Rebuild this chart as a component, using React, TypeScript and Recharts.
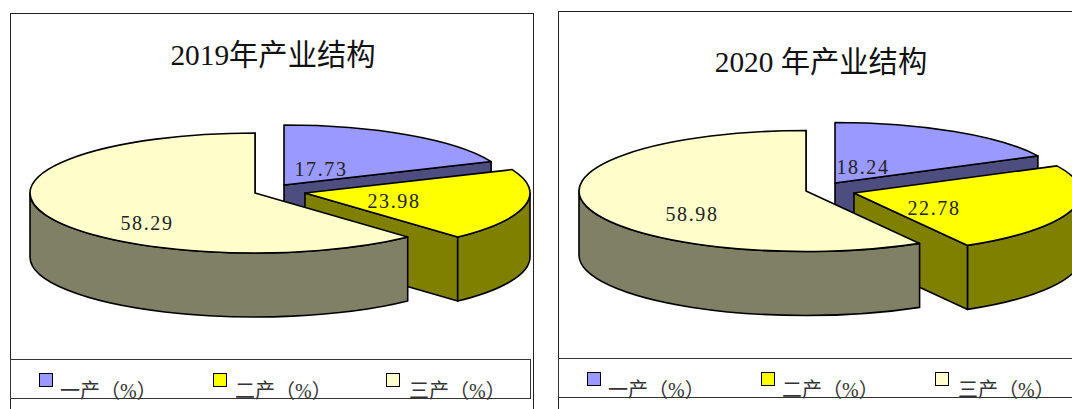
import React from 'react';
import { PieChart, Pie } from 'recharts';

const SECTORS = ['一产（%）', '二产（%）', '三产（%）'];
const VALUES_2019 = [17.73, 23.98, 58.29];
const VALUES_2020 = [18.24, 22.78, 58.98];

const TOP_COLORS = ['#9999ff', '#ffff00', '#ffffcc'];
const WALL_COLORS = ['#4d4d80', '#808000', '#808066'];
const SERIF = '"Liberation Serif", "Noto Sans CJK SC", serif';

const TILT = 60 / 225;
const DEPTH = 64;

// how far each slice is pulled out of the pie, and where its value sits
const LAYOUT_2019 = {
  left: 0, cx: 255, cy: 193, radius: 225,
  explode: [[29, -8], [50, 0], [0, 0]],
  labels: [[66, -22], [139, 10], [-108, 32]],
  // the picture is drawn a little skewed, so slice edges don't sit at the true angles
  warp: [[0, 0], [63.8, 67], [150.1, 137.2], [360, 360]],
  legendX: [39, 213, 386],
  textX: [60, 235, 409],
  legendTop: 359,
};
const LAYOUT_2020 = {
  left: 536, cx: 270, cy: 191, radius: 227,
  explode: [[29, -8], [48, 2], [0, 0]],
  labels: [[57, -22], [128, 19], [-114, 25]],
  warp: [[0, 0], [65.7, 63.4], [147.7, 150], [360, 360]],
  legendX: [587, 761, 935],
  textX: [608, 782, 958],
  legendTop: 358,
};

const warpAngle = (t: number, warp: number[][]) => {
  for (let i = 1; i < warp.length; i++) {
    if (t <= warp[i][0]) {
      const [a, b] = warp[i - 1];
      const [c, d] = warp[i];
      return b + ((t - a) / (c - a)) * (d - b);
    }
  }
  return t;
};

const Slice3D = (props: any, layout: any) => {
  const { cx, cy, outerRadius, startAngle, endAngle, index } = props;
  const [dx, dy] = layout.explode[index];
  const ax = cx + dx;
  const ay = cy + dy;
  const rx = outerRadius;
  const ry = outerRadius * TILT;
  const from = warpAngle(90 - startAngle, layout.warp);
  const to = warpAngle(90 - endAngle, layout.warp);
  const pt = (t: number, drop = 0) => {
    const r = (t * Math.PI) / 180;
    return `${ax + rx * Math.sin(r)} ${ay - ry * Math.cos(r) + drop}`;
  };
  const large = to - from > 180 ? 1 : 0;
  const wallFrom = Math.max(from, 90);
  const wallTo = Math.min(to, 270);
  const line = { stroke: '#000', strokeWidth: 1.6, strokeLinejoin: 'round' as const };
  return (
    <g>
      <path
        d={`M${ax} ${ay} L${pt(to)} L${pt(to, DEPTH)} L${ax} ${ay + DEPTH} Z`}
        fill={WALL_COLORS[index]}
        {...line}
      />
      {wallFrom < wallTo && (
        <path
          d={`M${pt(wallFrom)} A${rx} ${ry} 0 0 1 ${pt(wallTo)} L${pt(wallTo, DEPTH)} A${rx} ${ry} 0 0 0 ${pt(wallFrom, DEPTH)} Z`}
          fill={WALL_COLORS[index]}
          {...line}
        />
      )}
      <path
        d={`M${ax} ${ay} L${pt(from)} A${rx} ${ry} 0 ${large} 1 ${pt(to)} Z`}
        fill={TOP_COLORS[index]}
        {...line}
      />
    </g>
  );
};

const LegendRow = ({ layout }: any) => (
  <>
    {SECTORS.map((name, i) => (
      <React.Fragment key={name}>
        <div
          style={{
            position: 'absolute',
            left: layout.legendX[i] - layout.left,
            top: layout.legendTop + 14,
            width: 14,
            height: 14,
            boxSizing: 'border-box',
            background: TOP_COLORS[i],
            border: '1.5px solid #000',
          }}
        />
        <div
          style={{
            position: 'absolute',
            left: layout.textX[i] - layout.left,
            top: layout.legendTop + 20,
            fontFamily: SERIF,
            fontSize: 20,
            lineHeight: '24px',
            color: '#333',
            whiteSpace: 'nowrap',
          }}
        >
          {name}
        </div>
      </React.Fragment>
    ))}
  </>
);

const StructurePie = ({ title, values, layout, titleX, titleY, frame }: any) => {
  const data = SECTORS.map((name, i) => ({ name, value: values[i] }));
  return (
    <div style={{ position: 'absolute', left: layout.left, top: 0, width: 536, height: 409 }}>
      <div
        style={{
          position: 'absolute',
          left: frame.left,
          top: frame.top,
          width: frame.width,
          height: 420,
          border: '1.5px solid #222',
          boxSizing: 'border-box',
        }}
      />
      <div
        style={{
          position: 'absolute',
          left: frame.left,
          top: layout.legendTop,
          width: frame.legendWidth,
          height: 40,
          border: '1px solid #333',
          boxSizing: 'border-box',
        }}
      />
      <div
        style={{
          position: 'absolute',
          left: titleX - 200,
          width: 400,
          top: titleY - 20,
          textAlign: 'center',
          fontFamily: SERIF,
          fontSize: 29.3,
          lineHeight: '40px',
          color: '#111',
          whiteSpace: 'pre',
        }}
      >
        {title}
      </div>
      <PieChart
        width={536}
        height={409}
        margin={{ top: 0, right: 0, bottom: 0, left: 0 }}
        style={{ position: 'absolute', left: 0, top: 0 }}
      >
        <Pie
          data={data}
          dataKey="value"
          nameKey="name"
          cx={layout.cx}
          cy={layout.cy}
          innerRadius={0}
          outerRadius={layout.radius}
          startAngle={90}
          endAngle={-270}
          stroke="none"
          isAnimationActive={false}
          shape={(props: any) => Slice3D(props, layout)}
          labelLine={false}
          label={(props: any) => (
            <text
              x={props.cx + layout.labels[props.index][0]}
              y={props.cy + layout.labels[props.index][1]}
              textAnchor="middle"
              dominantBaseline="middle"
              fontFamily={SERIF}
              fontSize={20}
              letterSpacing={1.6}
              fill="#222"
            >
              {props.value.toFixed(2)}
            </text>
          )}
        />
      </PieChart>
      <LegendRow layout={layout} />
    </div>
  );
};

export default function App() {
  return (
    <div style={{ position: 'fixed', left: 0, top: 0, width: 1072, height: 409, overflow: 'hidden', background: '#fff' }}>
      <StructurePie
        title="2019年产业结构"
        values={VALUES_2019}
        layout={LAYOUT_2019}
        titleX={273}
        titleY={55}
        frame={{ left: 10, top: 13, width: 524, legendWidth: 521 }}
      />
      <StructurePie
        title="2020 年产业结构"
        values={VALUES_2020}
        layout={LAYOUT_2020}
        titleX={285}
        titleY={62}
        frame={{ left: 22, top: 11, width: 540, legendWidth: 540 }}
      />
    </div>
  );
}
